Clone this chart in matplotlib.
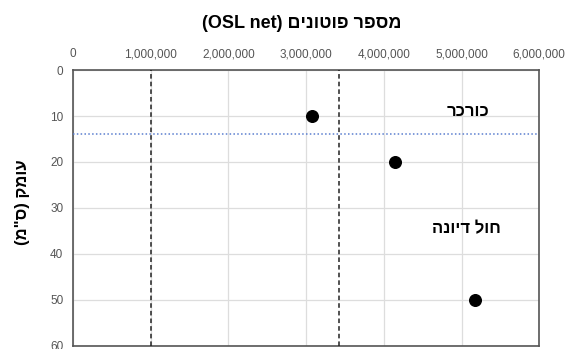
import matplotlib.pyplot as plt
from matplotlib.ticker import FuncFormatter

plt.rcParams['font.family'] = ['Liberation Sans', 'DejaVu Sans']

# photons (OSL net) vs depth in cm
photons = [3080000, 4140000, 5170000]
depth = [10, 20, 50]
x_ticks = [0, 1000000, 2000000, 3000000, 4000000, 5000000, 6000000]
y_ticks = [0, 10, 20, 30, 40, 50, 60]
limits_x = [1000000, 3420000]
boundary_depth = 14


def heb(s):
    # matplotlib has no bidi support, flip the Hebrew by hand
    return s[::-1]


fig = plt.figure(figsize=(5.7, 3.49), dpi=100)
ax = fig.add_axes([0.128, 0.01, 0.818, 0.789])

ax.scatter(photons, depth, s=70, color='black', zorder=5)
for lx in limits_x:
    ax.axvline(lx, color='#222222', linestyle=(0, (3, 2)), linewidth=1.1, zorder=3)
ax.axhline(boundary_depth, color='#5b7fd0', linestyle=(0, (1, 1.5)), linewidth=1.1, zorder=3)

ax.set_xlim(0, 6000000)
ax.set_ylim(60, 0)
ax.set_xticks(x_ticks)
ax.set_yticks(y_ticks)
ax.xaxis.tick_top()
ax.xaxis.set_major_formatter(FuncFormatter(lambda v, p: f'{int(v):,}'))
ax.tick_params(length=0, labelsize=8.5, colors='#555555', pad=7)
ax.grid(True, color='#dddddd', linewidth=0.9)
ax.set_axisbelow(True)
for sp in ax.spines.values():
    sp.set_color('#555555')
    sp.set_linewidth(1.2)

ax.text(5080000, 9, heb('כורכר'), fontsize=12, fontweight='bold', ha='center', va='center')
ax.text(5060000, 34.5, heb('חול דיונה'), fontsize=12, fontweight='bold', ha='center', va='center')

fig.text(0.53, 0.934, '(OSL net) ' + heb('מספר פוטונים'), fontsize=13, fontweight='bold',
         ha='center', va='center')
fig.text(0.04, 0.42, '(' + heb('ס"מ') + ') ' + heb('עומק'), fontsize=12, fontweight='bold',
         rotation=90, ha='center', va='center')

plt.savefig('out.png', dpi=100)
